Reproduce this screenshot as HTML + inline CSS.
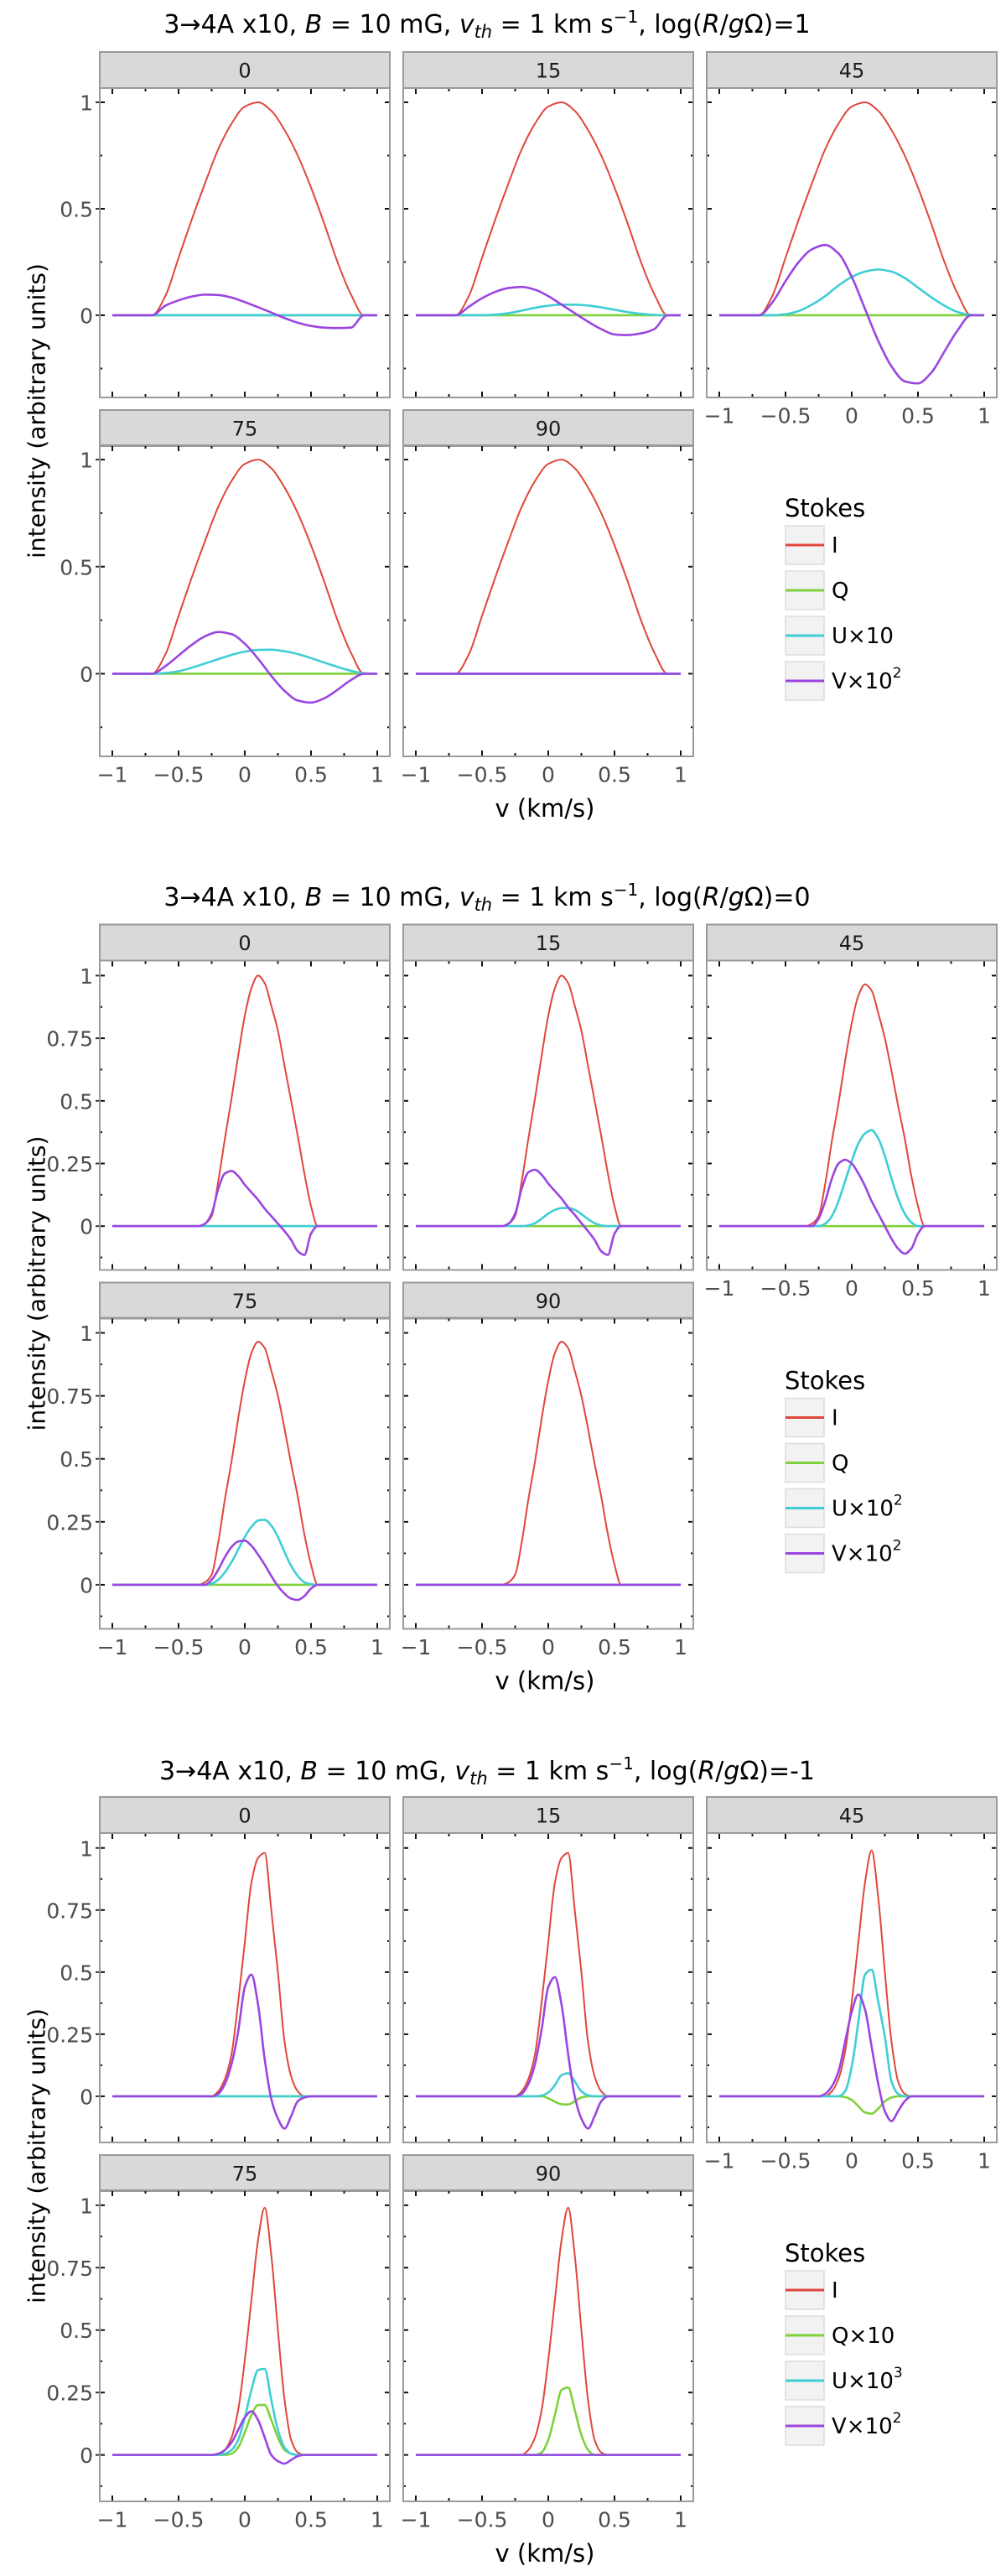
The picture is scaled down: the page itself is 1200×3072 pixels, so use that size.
<!DOCTYPE html>
<html><head><meta charset="utf-8">
<style>
html,body{margin:0;padding:0;background:#fff;}
svg{display:block;font-family:"DejaVu Sans","Liberation Sans",sans-serif;}
</style></head>
<body>
<svg id="fig" width="1200" height="3072" viewBox="0 0 1200 3072" xmlns="http://www.w3.org/2000/svg">
<rect x="0" y="0" width="1200" height="3072" fill="#fff"/>
<text x="581" y="39" font-size="30" text-anchor="middle" fill="#000">3→4A x10, <tspan font-style="italic">B</tspan> = 10 mG, <tspan font-style="italic">v</tspan><tspan font-style="italic" font-size="21" dy="6">th</tspan><tspan dy="-6"> = 1 km s</tspan><tspan font-size="20" dy="-12">−1</tspan><tspan dy="12">, log(</tspan><tspan font-style="italic">R</tspan>/<tspan font-style="italic">g</tspan>Ω)=1</text>
<text x="581" y="1080" font-size="30" text-anchor="middle" fill="#000">3→4A x10, <tspan font-style="italic">B</tspan> = 10 mG, <tspan font-style="italic">v</tspan><tspan font-style="italic" font-size="21" dy="6">th</tspan><tspan dy="-6"> = 1 km s</tspan><tspan font-size="20" dy="-12">−1</tspan><tspan dy="12">, log(</tspan><tspan font-style="italic">R</tspan>/<tspan font-style="italic">g</tspan>Ω)=0</text>
<text x="581" y="2122" font-size="30" text-anchor="middle" fill="#000">3→4A x10, <tspan font-style="italic">B</tspan> = 10 mG, <tspan font-style="italic">v</tspan><tspan font-style="italic" font-size="21" dy="6">th</tspan><tspan dy="-6"> = 1 km s</tspan><tspan font-size="20" dy="-12">−1</tspan><tspan dy="12">, log(</tspan><tspan font-style="italic">R</tspan>/<tspan font-style="italic">g</tspan>Ω)=-1</text>
</svg>
<script>
// ---------- DATA ----------
const grid1 = [-1,-0.9,-0.8,-0.7,-0.6,-0.5,-0.4,-0.3,-0.2,-0.1,0,0.1,0.2,0.3,0.4,0.5,0.6,0.7,0.8,0.9,1];
const grid23 = [-1,-0.45,-0.4,-0.35,-0.3,-0.25,-0.2,-0.15,-0.1,-0.05,0,0.05,0.1,0.15,0.2,0.25,0.3,0.35,0.4,0.45,0.5,0.55,1];
const xTicks = [-1,-0.5,0,0.5,1];
const xTickLabels = ['\u22121','\u22120.5','0','0.5','1'];
const xMinor = [-0.75,-0.25,0.25,0.75];
const angles = ['0','15','45','75','90'];

// section 1: log(R/gΩ)=1
const s1_zero = [0,0,0,0,0,0,0,0,0,0,0,0,0,0,0,0,0,0,0,0,0];
const s1_I = [0,0,0,0,0.09,0.27,0.45,0.62,0.78,0.9,0.98,1.0,0.96,0.87,0.75,0.6,0.43,0.25,0.1,0,0];
const s1_V0 = [0,0,0,0,0.045,0.07,0.088,0.097,0.095,0.083,0.062,0.038,0.013,-0.013,-0.035,-0.05,-0.058,-0.06,-0.058,0,0];
const s1_V15 = [0,0,0,0,0.04,0.08,0.11,0.128,0.133,0.12,0.09,0.05,0.01,-0.03,-0.065,-0.09,-0.093,-0.085,-0.065,0,0];
const s1_U15 = [0,0,0,0,0,0,0.003,0.01,0.022,0.035,0.045,0.05,0.05,0.046,0.037,0.026,0.015,0.007,0.002,0,0];
const s1_V45 = [0,0,0,0,0.06,0.16,0.25,0.31,0.33,0.29,0.18,0.03,-0.12,-0.24,-0.31,-0.32,-0.27,-0.17,-0.07,0,0];
const s1_U45 = [0,0,0,0,0,0.005,0.02,0.05,0.09,0.14,0.18,0.205,0.215,0.205,0.175,0.13,0.085,0.045,0.015,0.002,0];
const s1_V75 = [0,0,0,0,0.035,0.085,0.135,0.175,0.195,0.185,0.14,0.07,-0.01,-0.08,-0.125,-0.135,-0.115,-0.075,-0.03,0,0];
const s1_U75 = [0,0,0,0,0.003,0.012,0.028,0.048,0.068,0.088,0.103,0.111,0.112,0.105,0.092,0.073,0.052,0.032,0.014,0.002,0];

// section 2: log(R/gΩ)=0
const s2_zero = [0,0,0,0,0,0,0,0,0,0,0,0,0,0,0,0,0,0,0,0,0,0,0];
const s2_I0 = [0,0,0,0,0.01,0.04,0.18,0.35,0.51,0.68,0.84,0.95,1.0,0.97,0.88,0.78,0.64,0.5,0.36,0.21,0.08,0,0];
const s2_I45 = [0,0,0,0,0.01,0.04,0.17,0.34,0.49,0.66,0.81,0.92,0.965,0.94,0.85,0.75,0.62,0.48,0.35,0.2,0.08,0,0];
const s2_V0 = [0,0,0,0,0.01,0.05,0.15,0.21,0.22,0.2,0.165,0.135,0.105,0.07,0.04,0.01,-0.02,-0.055,-0.1,-0.115,-0.03,0,0];
const s2_V15 = [0,0,0,0,0.01,0.05,0.15,0.215,0.225,0.205,0.17,0.14,0.11,0.075,0.045,0.012,-0.02,-0.055,-0.1,-0.115,-0.03,0,0];
const s2_U15 = [0,0,0,0,0,0,0,0.003,0.012,0.03,0.05,0.065,0.072,0.073,0.065,0.048,0.028,0.012,0.003,0,0,0,0];
const s2_V45 = [0,0,0,0,0,0.03,0.1,0.19,0.25,0.265,0.25,0.21,0.16,0.1,0.05,0,-0.05,-0.09,-0.11,-0.09,-0.03,0,0];
const s2_U45 = [0,0,0,0,0,0,0.01,0.04,0.1,0.18,0.26,0.33,0.37,0.383,0.35,0.28,0.19,0.11,0.05,0.015,0,0,0];
const s2_V75 = [0,0,0,0,0,0.02,0.06,0.11,0.15,0.172,0.175,0.155,0.12,0.08,0.035,-0.005,-0.035,-0.055,-0.06,-0.045,-0.015,0,0];
const s2_U75 = [0,0,0,0,0,0.005,0.02,0.05,0.09,0.14,0.19,0.23,0.255,0.258,0.235,0.19,0.13,0.075,0.035,0.01,0.002,0,0];

// section 3: log(R/gΩ)=-1
const s3_zero = [0,0,0,0,0,0,0,0,0,0,0,0,0,0,0,0,0,0,0,0,0,0,0];
const s3_I0 = [0,0,0,0,0,0,0.02,0.07,0.17,0.38,0.62,0.86,0.96,0.98,0.75,0.5,0.22,0.08,0.02,0,0,0,0];
const s3_V0 = [0,0,0,0,0,0,0.01,0.05,0.13,0.26,0.44,0.49,0.37,0.15,-0.01,-0.09,-0.13,-0.08,-0.02,-0.005,0,0,0];
const s3_V15 = [0,0,0,0,0,0,0.01,0.05,0.13,0.27,0.44,0.48,0.37,0.17,0,-0.09,-0.13,-0.08,-0.02,0,0,0,0];
const s3_U15 = [0,0,0,0,0,0,0,0,0,0.003,0.015,0.045,0.085,0.093,0.06,0.02,0.004,0,0,0,0,0,0];
const s3_Q15 = [0,0,0,0,0,0,0,0,0,0,-0.008,-0.022,-0.032,-0.033,-0.02,-0.005,0,0,0,0,0,0,0];
const s3_I45 = [0,0,0,0,0,0,0,0.02,0.07,0.18,0.38,0.62,0.86,0.99,0.8,0.5,0.22,0.06,0.01,0,0,0,0];
const s3_U45 = [0,0,0,0,0,0,0,0,0,0.02,0.12,0.3,0.49,0.51,0.38,0.24,0.06,0.01,0,0,0,0,0];
const s3_V45 = [0,0,0,0,0,0,0.01,0.04,0.1,0.22,0.34,0.41,0.35,0.2,0.05,-0.06,-0.1,-0.06,-0.02,0,0,0,0];
const s3_Q45 = [0,0,0,0,0,0,0,0,0,-0.003,-0.015,-0.04,-0.065,-0.07,-0.05,-0.02,-0.005,0,0,0,0,0,0];
const s3_U75 = [0,0,0,0,0,0,0,0.005,0.02,0.06,0.15,0.26,0.34,0.345,0.22,0.1,0.03,0.005,0,0,0,0,0];
const s3_Q75 = [0,0,0,0,0,0,0,0,0.005,0.03,0.09,0.16,0.2,0.2,0.14,0.07,0.02,0.005,0,0,0,0,0];
const s3_V75 = [0,0,0,0,0,0,0.005,0.02,0.05,0.1,0.15,0.175,0.14,0.07,0,-0.025,-0.035,-0.02,-0.005,0,0,0,0];
const s3_Q90 = [0,0,0,0,0,0,0,0,0,0.01,0.06,0.16,0.26,0.27,0.18,0.08,0.02,0,0,0,0,0,0];

const s1_legend = [['I',''],['Q',''],['U\u00d710',''],['V\u00d710','2']];
const s2_legend = [['I',''],['Q',''],['U\u00d710','2'],['V\u00d710','2']];
const s3_legend = [['I',''],['Q\u00d710',''],['U\u00d710','3'],['V\u00d710','2']];

// ---------- LAYOUT ----------
const NS = 'http://www.w3.org/2000/svg';
const svg = document.getElementById('fig');
const colors = {I:'#e0463c', Q:'#7fd13b', U:'#3fcdd6', V:'#9b45e0'};
const widths = {I:2, Q:2.6, U:2.6, V:2.6};
const colX = [119,481,843], panelW = 346;
const stripTop = [62,489], stripH = 43, plotTop = [105,531], plotBot = [474,902];
const xMin = -1.095, xMax = 1.095;

const sections = [
  {off:0, ymin:-0.386, ymax:1.067, yMajor:[0,0.5,1], yLab:['0','0.5','1'], yMinor:[-0.25,0.25,0.75], grid:grid1, legend:s1_legend,
   panels:[{I:s1_I,Q:s1_zero,U:s1_zero,V:s1_V0},{I:s1_I,Q:s1_zero,U:s1_U15,V:s1_V15},{I:s1_I,Q:s1_zero,U:s1_U45,V:s1_V45},{I:s1_I,Q:s1_zero,U:s1_U75,V:s1_V75},{I:s1_I,Q:s1_zero,U:s1_zero,V:s1_zero}]},
  {off:1040.5, ymin:-0.175, ymax:1.06, yMajor:[0,0.25,0.5,0.75,1], yLab:['0','0.25','0.5','0.75','1'], yMinor:[-0.125,0.125,0.375,0.625,0.875], grid:grid23, legend:s2_legend,
   panels:[{I:s2_I0,Q:s2_zero,U:s2_zero,V:s2_V0},{I:s2_I0,Q:s2_zero,U:s2_U15,V:s2_V15},{I:s2_I45,Q:s2_zero,U:s2_U45,V:s2_V45},{I:s2_I45,Q:s2_zero,U:s2_U75,V:s2_V75},{I:s2_I45,Q:s2_zero,U:s2_zero,V:s2_zero}]},
  {off:2081, ymin:-0.186, ymax:1.06, yMajor:[0,0.25,0.5,0.75,1], yLab:['0','0.25','0.5','0.75','1'], yMinor:[-0.125,0.125,0.375,0.625,0.875], grid:grid23, legend:s3_legend,
   panels:[{I:s3_I0,Q:s3_zero,U:s3_zero,V:s3_V0},{I:s3_I0,Q:s3_Q15,U:s3_U15,V:s3_V15},{I:s3_I45,Q:s3_Q45,U:s3_U45,V:s3_V45},{I:s3_I45,Q:s3_Q75,U:s3_U75,V:s3_V75},{I:s3_I45,Q:s3_Q90,U:s3_zero,V:s3_zero}]}
];

function mk(tag, attrs, parent){
  const e = document.createElementNS(NS, tag);
  for (const k in attrs) e.setAttribute(k, attrs[k]);
  (parent||svg).appendChild(e);
  return e;
}
// monotone cubic (Fritsch-Carlson style) spline: no overshoot
function splinePath(pts){
  const n = pts.length;
  const sl = [];
  for (let i = 0; i < n-1; i++) sl.push((pts[i+1][1]-pts[i][1])/(pts[i+1][0]-pts[i][0]));
  const m = pts.map((p, i) => {
    if (i === 0) return 0;
    if (i === n-1) return 0;
    const s0 = sl[i-1], s1 = sl[i];
    if (s0 * s1 <= 0) return 0;
    const h0 = p[0]-pts[i-1][0], h1 = pts[i+1][0]-p[0];
    const w1 = 2*h1 + h0, w2 = h1 + 2*h0;
    return (w1 + w2) / (w1/s0 + w2/s1);
  });
  let d = 'M' + pts[0][0].toFixed(2) + ',' + pts[0][1].toFixed(2);
  for (let i = 0; i < n-1; i++){
    const p1 = pts[i], p2 = pts[i+1];
    const h = (p2[0]-p1[0])/3;
    d += 'C' + (p1[0]+h).toFixed(2)+','+(p1[1]+m[i]*h).toFixed(2)+' '+(p2[0]-h).toFixed(2)+','+(p2[1]-m[i+1]*h).toFixed(2)+' '+p2[0].toFixed(2)+','+p2[1].toFixed(2);
  }
  return d;
}

sections.forEach((sec, si) => {
  const O = sec.off;
  const g = mk('g', {});
  
  

  sec.panels.forEach((p, pi) => {
    const row = pi < 3 ? 0 : 1, col = pi % 3;
    const x0 = colX[col];
    const top = plotTop[row] + O, bot = plotBot[row] + O;
    const xs = v => x0 + (v - xMin) / (xMax - xMin) * panelW;
    const ys = v => top + (sec.ymax - v) / (sec.ymax - sec.ymin) * (bot - top);
    const pg = mk('g', {}, g);
    
    

    const strip = mk('rect', {x:x0, y:stripTop[row]+O, width:panelW, height:stripH, fill:'#d9d9d9', stroke:'#9a9a9a', 'stroke-width':2}, pg);
    
    
    const st = mk('text', {x:x0+panelW/2, y:stripTop[row]+O+stripH/2+1, 'font-size':24, fill:'#1a1a1a', 'text-anchor':'middle', 'dominant-baseline':'central'}, pg);
    st.textContent = angles[pi];
    
    

    const tk = mk('g', {stroke:'#111', 'stroke-width':2}, pg);
    
    
    xTicks.forEach(v => { mk('line',{x1:xs(v),x2:xs(v),y1:top,y2:top+7},tk); mk('line',{x1:xs(v),x2:xs(v),y1:bot,y2:bot-7},tk); });
    xMinor.forEach(v => { mk('line',{x1:xs(v),x2:xs(v),y1:top,y2:top+4},tk); mk('line',{x1:xs(v),x2:xs(v),y1:bot,y2:bot-4},tk); });
    sec.yMajor.forEach(v => { mk('line',{x1:x0,x2:x0+6,y1:ys(v),y2:ys(v)},tk); mk('line',{x1:x0+panelW,x2:x0+panelW-6,y1:ys(v),y2:ys(v)},tk); if(col===0) mk('line',{x1:x0-5,x2:x0,y1:ys(v),y2:ys(v),stroke:'#333'},tk); });
    sec.yMinor.forEach(v => { mk('line',{x1:x0,x2:x0+3,y1:ys(v),y2:ys(v)},tk); mk('line',{x1:x0+panelW,x2:x0+panelW-3,y1:ys(v),y2:ys(v)},tk); });

    ['I','Q','U','V'].forEach(s => {
      const vals = p[s];
      const pts = sec.grid.map((v, i) => [xs(v), ys(vals[i])]);
      const path = mk('path', {d:splinePath(pts), fill:'none', stroke:colors[s], 'stroke-width':widths[s], 'stroke-linejoin':'round'}, pg);
      
      
    });

    const border = mk('rect', {x:x0, y:top, width:panelW, height:bot-top, fill:'none', stroke:'#9a9a9a', 'stroke-width':2}, pg);
    
    

    if (col === 0){
      sec.yMajor.forEach((v, i) => {
        const t = mk('text', {x:x0-8, y:ys(v)+1, 'font-size':25, fill:'#4d4d4d', 'text-anchor':'end', 'dominant-baseline':'central'}, pg);
        t.textContent = sec.yLab[i];
        
        
      });
    }
    if (row === 1 || col === 2){
      xTicks.forEach((v, i) => {
        const t = mk('text', {x:xs(v), y:bot+22, 'font-size':25, fill:'#4d4d4d', 'text-anchor':'middle', 'dominant-baseline':'central'}, pg);
        t.textContent = xTickLabels[i];
        
        
      });
    }
  });

  const yt = mk('text', {x:0, y:0, transform:'translate(44,' + (O+490) + ') rotate(-90)', 'font-size':28, fill:'#000', 'text-anchor':'middle', 'dominant-baseline':'central'}, g);
  yt.textContent = 'intensity (arbitrary units)';
  
  
  const xt = mk('text', {x:650, y:O+964, 'font-size':29, fill:'#000', 'text-anchor':'middle', 'dominant-baseline':'central'}, g);
  xt.textContent = 'v (km/s)';
  
  

  const lg = mk('g', {}, g);
  
  
  const lt = mk('text', {x:936, y:O+606, 'font-size':29, fill:'#000', 'dominant-baseline':'central'}, lg);
  lt.textContent = 'Stokes';
  
  
  ['I','Q','U','V'].forEach((s, i) => {
    const yTop = O + 627 + 54*i;
    const eg = mk('g', {}, lg);
    
    
    mk('rect', {x:937, y:yTop, width:46, height:46, fill:'#f2f2f2', stroke:'#dcdcdc', 'stroke-width':1.5}, eg);
    mk('line', {x1:937, x2:983, y1:yTop+23, y2:yTop+23, stroke:colors[s], 'stroke-width':3}, eg);
    const t = mk('text', {x:992, y:yTop+24, 'font-size':26, fill:'#000', 'dominant-baseline':'central'}, eg);
    t.textContent = sec.legend[i][0];
    if (sec.legend[i][1]){
      const sup = mk('tspan', {dy:-10, 'font-size':17}, t);
      sup.textContent = sec.legend[i][1];
    }
  });
});
</script>
</body></html>
